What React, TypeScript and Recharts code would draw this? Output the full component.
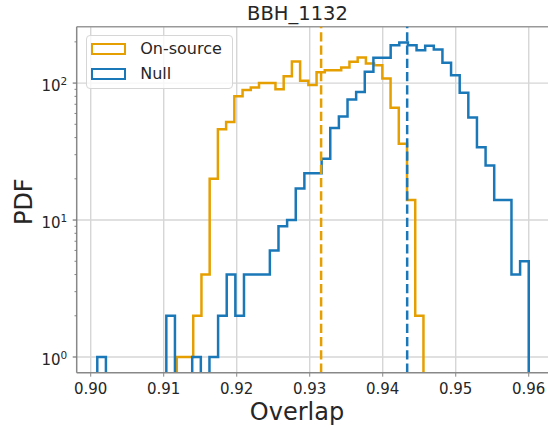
import { LineChart, Line, XAxis, YAxis, ReferenceLine, Legend } from "recharts"

// histogram counts (step histograms, log y)
const onSourceCounts = [
  1, 1, 2, 4, 20, 46, 52, 80, 89, 93, 100, 100, 90, 112, 144, 104, 97, 120,
  124, 124, 130, 143, 154, 139, 135, 108, 66, 36, 14, 2,
]
const nullCounts = [
  1, 0, 0, 0, 0, 0, 0, 0, 2, 0, 0, 1, 0, 1, 2, 4, 2, 4, 4, 4, 6, 9, 10, 17, 22,
  22, 28, 47, 57, 76, 86, 121, 153, 153, 189, 198, 189, 174, 187, 176, 141, 114,
  85, 56, 34, 25, 14, 14, 4, 5,
]
const onSourceRange = [0.91179, 0.94558]
const nullRange = [0.9009, 0.96]
const onSourceMedian = 0.93156
const nullMedian = 0.94335

const seriesNames = ["On-source", "Null"]
const xTicks = [0.9, 0.91, 0.92, 0.93, 0.94, 0.95, 0.96]
const yMajor = [1, 10, 100]
const yTicks = [1, 2, 3, 4, 5, 6, 7, 8, 9, 10, 20, 30, 40, 50, 60, 70, 80, 90, 100, 200]

const X_DOMAIN = [0.89808, 0.96264]
const Y_DOMAIN = [0.768, 258]
const FLOOR = 0.3

const ORANGE = "#E69F00"
const BLUE = "#1a78b8"
const FONT = "DejaVu Sans, sans-serif"

function stepPoints(range: number[], counts: number[]) {
  const [lo, hi] = range
  const w = (hi - lo) / counts.length
  const pts = [{ x: lo, y: FLOOR }]
  counts.forEach((c, i) => pts.push({ x: lo + i * w, y: c > 0 ? c : FLOOR }))
  const last = counts[counts.length - 1]
  pts.push({ x: hi, y: last > 0 ? last : FLOOR })
  pts.push({ x: hi, y: FLOOR })
  return pts
}

const onSourceData = stepPoints(onSourceRange, onSourceCounts)
const nullData = stepPoints(nullRange, nullCounts)

function YTick({ x, y, payload }: any) {
  const v = payload.value
  const exp = Math.round(Math.log10(v))
  const major = Math.abs(Math.log10(v) - exp) < 1e-9
  return (
    <g>
      <line
        x1={x}
        x2={x - (major ? 4 : 2.2)}
        y1={y}
        y2={y}
        stroke="#777"
        strokeWidth={major ? 1.2 : 0.9}
      />
      {major && (
        <text
          x={x - 9.5}
          y={y + 7.6}
          textAnchor="end"
          fontSize={15}
          fontFamily={FONT}
          fill="#262626"
        >
          10
          <tspan dy={-6} fontSize={10.5}>
            {exp}
          </tspan>
        </text>
      )}
    </g>
  )
}

function LegendBox({ payload }: any) {
  const items = [...(payload || [])].sort(
    (a: any, b: any) => seriesNames.indexOf(a.value) - seriesNames.indexOf(b.value)
  )
  return (
    <div
      style={{
        position: "relative",
        width: 145,
        height: 52,
        border: "1px solid #d6d6d6",
        borderRadius: 4,
        background: "rgba(255,255,255,0.8)",
        fontFamily: FONT,
        fontSize: 16,
        color: "#262626",
      }}
    >
      {items.map((p: any, i: number) => (
        <div key={p.value}>
          <div
            style={{
              position: "absolute",
              left: 4,
              top: 7 + i * 24.5,
              width: 35,
              height: 12,
              boxSizing: "border-box",
              border: `2.5px solid ${p.color}`,
            }}
          />
          <div
            style={{
              position: "absolute",
              left: 53.5,
              top: 3 + i * 24.5,
              lineHeight: "20px",
              whiteSpace: "nowrap",
            }}
          >
            {p.value}
          </div>
        </div>
      ))}
    </div>
  )
}

export default function App() {
  return (
    <div style={{ position: "absolute", left: 0, top: 0, width: 548, height: 432 }}>
      <LineChart
        width={548}
        height={432}
        margin={{ top: 26.7, right: 0, bottom: 0, left: 0 }}
      >
        <text
          x={297.5}
          y={20}
          textAnchor="middle"
          fontSize={19.5}
          fontFamily={FONT}
          fill="#262626"
        >
          BBH_1132
        </text>
        <text
          x={31.7}
          y={201.7}
          transform="rotate(-90 31.7 201.7)"
          textAnchor="middle"
          fontSize={24}
          fontFamily={FONT}
          fill="#262626"
        >
          PDF
        </text>
        <text
          x={297}
          y={419.5}
          textAnchor="middle"
          fontSize={24}
          fontFamily={FONT}
          fill="#262626"
        >
          Overlap
        </text>

        {xTicks.map((t) => (
          <ReferenceLine key={"gx" + t} x={t} stroke="#d6d6d6" strokeWidth={1.4} />
        ))}
        {yMajor.map((t) => (
          <ReferenceLine key={"gy" + t} y={t} stroke="#d6d6d6" strokeWidth={1.4} />
        ))}
        <ReferenceLine y={Y_DOMAIN[1]} stroke="#999" strokeWidth={1.5} />

        <XAxis
          type="number"
          dataKey="x"
          domain={X_DOMAIN}
          allowDataOverflow
          ticks={xTicks}
          interval={0}
          tickFormatter={(v) => v.toFixed(2)}
          tick={{ fontSize: 15, fill: "#262626", fontFamily: FONT }}
          tickSize={4}
          tickMargin={6.5}
          stroke="#888"
          axisLine={{ stroke: "#888", strokeWidth: 1.5 }}
          height={59.3}
        />
        <YAxis
          type="number"
          dataKey="y"
          scale="log"
          domain={Y_DOMAIN}
          allowDataOverflow
          ticks={yTicks}
          interval={0}
          tick={<YTick />}
          tickLine={false}
          tickSize={0}
          tickMargin={0}
          axisLine={{ stroke: "#888", strokeWidth: 1.5 }}
          width={76.7}
        />

        <Line
          data={onSourceData}
          dataKey="y"
          name="On-source"
          type="stepAfter"
          stroke={ORANGE}
          strokeWidth={2.5}
          strokeLinejoin="miter"
          dot={false}
          isAnimationActive={false}
        />
        <Line
          data={nullData}
          dataKey="y"
          name="Null"
          type="stepAfter"
          stroke={BLUE}
          strokeWidth={2.5}
          strokeLinejoin="miter"
          dot={false}
          isAnimationActive={false}
        />

        <ReferenceLine
          x={onSourceMedian}
          stroke={ORANGE}
          strokeWidth={2.5}
          strokeDasharray="9.25 4"
        />
        <ReferenceLine
          x={nullMedian}
          stroke={BLUE}
          strokeWidth={2.5}
          strokeDasharray="9.25 4"
        />

        <Legend
          layout="vertical"
          align="center"
          verticalAlign="middle"
          content={<LegendBox />}
          wrapperStyle={{ left: 85.7, top: 35, width: 147, height: 54 }}
        />
      </LineChart>
    </div>
  )
}
